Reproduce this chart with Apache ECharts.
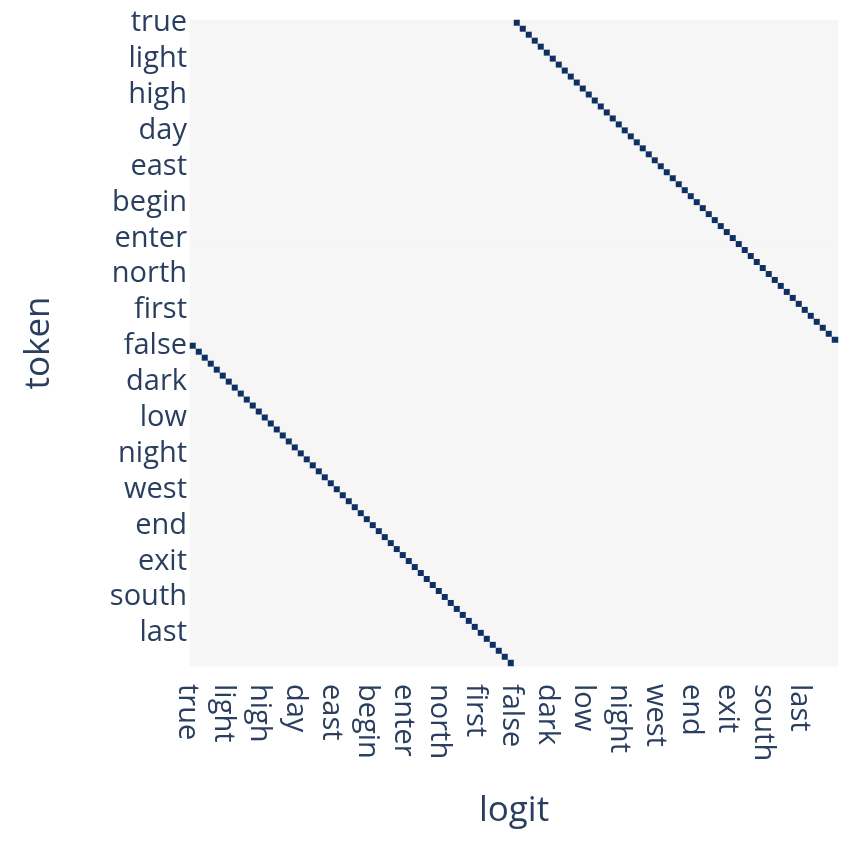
<!DOCTYPE html>
<html>
<head>
<meta charset="utf-8">
<script src="https://cdn.jsdelivr.net/npm/echarts@6/dist/echarts.min.js"></script>
<style>html,body{margin:0;padding:0;background:#fff}#chart{width:862px;height:846px}</style>
</head>
<body>
<div id="chart"></div>
<script>
// 108 tokens; every 6th is shown as a tick label
var tokens = [
  "true","correct","right","yes","valid","real",
  "light","bright","white","shine","clear","glow",
  "high","up","above","top","tall","rise",
  "day","morning","dawn","noon","sunrise","awake",
  "east","eastern","eastward","oriental","levant","E",
  "begin","start","open","launch","init","commence",
  "enter","in","arrive","come","entry","inside",
  "north","northern","northward","arctic","boreal","N",
  "first","initial","earliest","primary","front","head",
  "false","incorrect","wrong","no","invalid","fake",
  "dark","dim","black","shadow","murky","gloom",
  "low","down","below","bottom","short","fall",
  "night","evening","dusk","midnight","sunset","asleep",
  "west","western","westward","occidental","ponent","W",
  "end","stop","close","finish","halt","conclude",
  "exit","out","leave","go","egress","outside",
  "south","southern","southward","antarctic","austral","S",
  "last","final","latest","ultimate","back","tail"
];
// logit index that is hot (value 1) for each token row
var hotLogit = [
  54,55,56,57,58,59,60,61,62,63,64,65,66,67,68,69,70,71,
  72,73,74,75,76,77,78,79,80,81,82,83,84,85,86,87,88,89,
  90,91,92,93,94,95,96,97,98,99,100,101,102,103,104,105,106,107,
  0,1,2,3,4,5,6,7,8,9,10,11,12,13,14,15,16,17,
  18,19,20,21,22,23,24,25,26,27,28,29,30,31,32,33,34,35,
  36,37,38,39,40,41,42,43,44,45,46,47,48,49,50,51,52,53
];

var cells = [];
for (var r = 0; r < tokens.length; r++) {
  for (var c = 0; c < tokens.length; c++) {
    cells.push([c, r, hotLogit[r] === c ? 1 : 0]);
  }
}

var FONT = "'Open Sans', sans-serif";
var TXT = '#2a3f5f';
var chart = echarts.init(document.getElementById('chart'), null, {renderer: 'canvas'});
chart.setOption({
  animation: false,
  grid: {left: 190, top: 20, width: 648, height: 646, containLabel: false},
  xAxis: {
    type: 'category', data: tokens, name: 'logit', nameLocation: 'middle', nameGap: 128,
    nameTextStyle: {fontFamily: FONT, fontSize: 35, color: TXT},
    axisLine: {show: false}, axisTick: {show: false}, splitLine: {show: false},
    axisLabel: {interval: 5, rotate: -90, fontFamily: FONT, fontSize: 29, color: TXT, margin: 18,
      formatter: function (v) { return '{t|' + v + '}'; },
      rich: {t: {fontFamily: FONT, fontSize: 29, color: TXT, padding: [12, 0, 0, 0]}}}
  },
  yAxis: {
    type: 'category', data: tokens, inverse: true, name: 'token', nameLocation: 'middle', nameGap: 133,
    nameRotate: 90,
    nameTextStyle: {fontFamily: FONT, fontSize: 35, color: TXT},
    axisLine: {show: false}, axisTick: {show: false}, splitLine: {show: false},
    axisLabel: {interval: 5, fontFamily: FONT, fontSize: 29, color: TXT, margin: 3}
  },
  visualMap: {show: false, min: 0, max: 1, inRange: {color: ['#f6f6f6', '#0f2e62']}},
  series: [{type: 'heatmap', data: cells, itemStyle: {borderWidth: 0}, emphasis: {disabled: true}}]
});
</script>
</body>
</html>
